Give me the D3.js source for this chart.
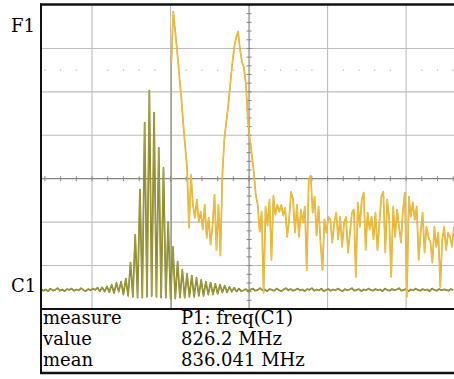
<!DOCTYPE html>
<html><head><meta charset="utf-8">
<script src="https://cdn.jsdelivr.net/npm/d3@7"></script>
<style>html,body{margin:0;padding:0;background:#fff;}svg{display:block;}</style>
</head><body>
<script>
// ---- data (time in divisions, amplitude in tenths of a division) ----
const c1Start = -0.65, c1Step = 0.03;
const c1Values = [
 -25.4,-25.8,-25.5,-25.9,-25.3,-25.7,-25.6,-25.2,-25.8,-25.5,-25.9,-25.4,-25.6,-25.3,-25.8,-25.5,-25.7,-25.2,-25.6,-25.9,-25.4,-25.7,-25.3,-25.6,-25.1,-25.9,-25.0,-26.0,
 -24.8,-26.1,-24.4,-26.3,-24.0,-26.0,
 -23.7,-26.7,-23.0,-27.0,-19.3,-27.2,-12.9,-27.4,-2.5,-27.4,12.9,-27.2,20.3,-27.0,15.2,-27.2,7.1,-27.4,2.5,-27.4,-10.0,-27.6,-15.7,-27.6,-19.1,-27.4,-21.0,-27.4,-21.9,-27.2,-22.3,-27.2,-22.8,-27.0,-23.3,-27.0,-23.7,-26.7,-23.9,-26.7,-24.2,-26.5,-24.4,-26.2,-24.6,-26.2,-24.9,-26.0,-25.1,-26.0,-25.3,-25.9,
 -25.7,-25.4,-25.9,-25.5,-25.3,-25.8,-25.6,-25.2,-25.7,-25.5,
 -25.9,-25.4,-25.6,-25.8,-25.3,-25.6,-25.9,-25.5,-25.2,-25.7,
 -25.4,-25.8,-25.6,-25.3,-25.7,-25.5,-25.9,-25.4,-25.6,-25.2,
 -25.8,-25.5,-25.7,-25.3,-25.9,-25.6,-25.4,-25.8,-25.5,-25.7,
 -25.3,-25.6,-25.9,-25.4,-25.7,-25.5,-25.2,-25.8,-25.6,-25.4,
 -25.9,-25.5,-25.7,-25.3,-25.6,-25.8,-25.4,-25.7,-25.5,-25.9,
 -25.3,-25.6,-25.8,-25.4,-25.7,-25.5,-25.2,-25.8,-25.6,-25.4,
 -25.9,-25.5,-25.7,-25.3,-25.6,-25.8,-25.4,-25.7,-25.5,-25.9,
 -25.3,-25.6,-25.8,-25.4,-25.7,-25.5,-25.6,-25.8,-25.4,-25.7
];
const f1Start = 1.01, f1Step = 0.025;
const f1Values = [
 26.7,38.5,33.9,29.2,24.0,19.1,13.1,7.8,2.5,
 -11.3,0.9,-6.0,-9.0,-4.8,-9.9,-7.6,-11.7,-6.0,-13.6,-9.0,-15.2,-10.6,-3.7,-16.4,-6.0,-17.7,
 0.9,9.0,13.1,17.0,21.6,26.3,30.2,32.5,33.9,29.7,26.9,25.6,21.6,13.6,9.0,5.5,1.6,
 -3.7,-6.0,-12.2,-7.6,-26.3,-6.4,-10.8,-4.8,-18.7,-3.9,
 -8.3,-6.0,-7.6,-6.0,-8.5,-6.7,-13.4,-9.4,-3.0,-4.8,
 -12.4,-6.0,-13.4,-7.1,-10.1,-6.4,-21.0,-0.2,0.7,-7.8,
 -4.1,-13.1,-6.4,-14.7,-21.0,-9.4,-12.4,-8.8,-9.4,-14.7,
 -10.1,-7.8,-14.0,-8.8,-15.7,-10.1,-8.8,-17.0,-12.4,-7.8,
 -7.1,-22.6,-5.5,-11.1,-4.8,-3.2,-16.4,-7.8,-11.7,-8.8,
 -14.0,-7.8,-16.4,-10.1,-4.1,-3.0,-17.0,-4.8,-9.4,-22.6,
 -6.4,-13.4,-7.1,-11.1,-14.7,-7.1,-3.2,-27.2,-4.1,-8.8,
 -5.5,-9.4,-6.4,-18.7,-12.4,-7.8,-17.0,-11.1,-13.4,-14.7,
 -19.3,-11.1,-15.7,-12.4,-24.9,-14.0,-11.1,-16.4,-12.4,-13.4,
 -15.7,-11.1
];
const channelLabels = ["F1", "C1"];
const channelLevels = [35, -25];       // label vertical positions (tenths of div)
const measureLabels = ["measure", "value", "mean"];
const measureValues = ["P1: freq(C1)", "826.2 MHz", "836.041 MHz"];
const xGrid = [0, 1, 2, 3, 4];
const yGrid = [-20, -10, 0, 10, 20, 30];

// ---- layout ----
const W = 454, H = 379;
const L = 41, T = 5, R = 454, B = 309, TB = 373;
const x = d3.scaleLinear().domain([-0.65, 4.61]).range([L, R]);
const y = d3.scaleLinear().domain([-30, 40]).range([B, T]);

const svg = d3.select("body").append("svg").attr("width", W).attr("height", H);
svg.append("rect").attr("width", W).attr("height", H).attr("fill", "#fff");

svg.append("clipPath").attr("id", "clip").append("rect")
  .attr("x", L).attr("y", T).attr("width", R - L).attr("height", B - T);
const plot = svg.append("g").attr("clip-path", "url(#clip)");

// grid
plot.selectAll("line.vg").data(xGrid.filter(d => d !== 2)).join("line")
  .attr("x1", d => x(d)).attr("x2", d => x(d)).attr("y1", T).attr("y2", B)
  .attr("stroke", "#bdbdbd").attr("stroke-width", 1.1);
plot.selectAll("line.hg").data(yGrid.filter(d => d !== 0)).join("line")
  .attr("x1", L).attr("x2", R).attr("y1", d => y(d)).attr("y2", d => y(d))
  .attr("stroke", "#bdbdbd").attr("stroke-width", 1.1);

// dotted reference row
const minorX = d3.range(-0.6, 4.62, 0.2).filter(d => Math.abs(d - Math.round(d)) > 0.05);
plot.selectAll("rect.dot").data(minorX).join("rect")
  .attr("x", d => x(d) - 0.6).attr("y", y(25) - 0.6).attr("width", 1.2).attr("height", 1.2)
  .attr("fill", "#b0b0b0");

// center axes with ticks
plot.append("line").attr("x1", L).attr("x2", R).attr("y1", y(0)).attr("y2", y(0))
  .attr("stroke", "#858585").attr("stroke-width", 1.2);
plot.append("line").attr("x1", x(2)).attr("x2", x(2)).attr("y1", T).attr("y2", B)
  .attr("stroke", "#858585").attr("stroke-width", 1.2);
plot.selectAll("line.tx").data(d3.range(-0.6, 4.62, 0.2)).join("line")
  .attr("x1", d => x(d)).attr("x2", d => x(d)).attr("y1", y(0) - 2.5).attr("y2", y(0) + 2.5)
  .attr("stroke", "#858585").attr("stroke-width", 1);
plot.selectAll("line.ty").data(d3.range(-30, 40.1, 2)).join("line")
  .attr("x1", x(2) - 2.5).attr("x2", x(2) + 2.5).attr("y1", d => y(d)).attr("y2", d => y(d))
  .attr("stroke", "#858585").attr("stroke-width", 1);

// F1 start marker
plot.append("line").attr("x1", x(f1Start)).attr("x2", x(f1Start)).attr("y1", y(f1Values[0])).attr("y2", B)
  .attr("stroke", "#9a9a62").attr("stroke-width", 1.1);

// traces
const line = (start, step) => d3.line().x((d, i) => x(start + i * step)).y(d => y(d));
plot.append("path").datum(c1Values).attr("d", line(c1Start, c1Step))
  .attr("fill", "none").attr("stroke", "#7f7d24").attr("stroke-width", 1.7).attr("stroke-linejoin", "round");
plot.append("path").datum(c1Values).attr("d", line(c1Start, c1Step))
  .attr("fill", "none").attr("stroke", "#b3ae46").attr("stroke-width", 0.6).attr("stroke-linejoin", "round");
plot.append("path").datum(f1Values).attr("d", line(f1Start, f1Step))
  .attr("fill", "none").attr("stroke", "#e5a826").attr("stroke-width", 1.7).attr("stroke-linejoin", "round");
plot.append("path").datum(f1Values).attr("d", line(f1Start, f1Step))
  .attr("fill", "none").attr("stroke", "#ecc84a").attr("stroke-width", 0.8).attr("stroke-linejoin", "round");

// frame
svg.append("line").attr("x1", L - 1).attr("x2", W).attr("y1", 4.5).attr("y2", 4.5).attr("stroke", "#111").attr("stroke-width", 2.5);
svg.append("line").attr("x1", L).attr("x2", L).attr("y1", 3.5).attr("y2", TB + 1).attr("stroke", "#111").attr("stroke-width", 2);
svg.append("line").attr("x1", L - 1).attr("x2", W).attr("y1", B).attr("y2", B).attr("stroke", "#111").attr("stroke-width", 2);
svg.append("line").attr("x1", L - 1).attr("x2", W).attr("y1", TB).attr("y2", TB).attr("stroke", "#111").attr("stroke-width", 2.5);

// channel labels
const font = "'DejaVu Serif', serif";
svg.selectAll("text.ch").data(channelLabels).join("text")
  .attr("x", 11).attr("y", (d, i) => y(channelLevels[i]))
  .attr("font-family", font).attr("font-size", 18).attr("fill", "#000")
  .attr("dominant-baseline", "middle").text(d => d);

// measurement table
svg.selectAll("text.ml").data(measureLabels).join("text")
  .attr("x", 43).attr("y", (d, i) => 324 + i * 21)
  .attr("font-family", font).attr("font-size", 18).attr("fill", "#000").text(d => d);
svg.selectAll("text.mv").data(measureValues).join("text")
  .attr("x", 181).attr("y", (d, i) => 324 + i * 21)
  .attr("font-family", font).attr("font-size", 18).attr("fill", "#000").text(d => d);
</script>
</body></html>
